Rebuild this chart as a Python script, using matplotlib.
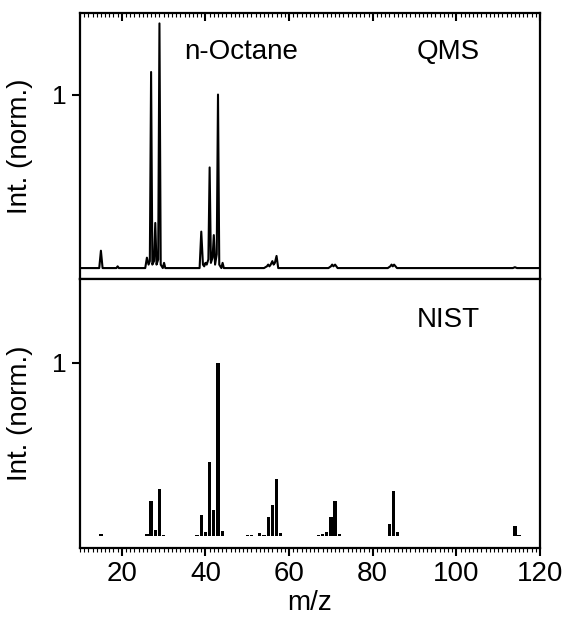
import matplotlib
matplotlib.use("Agg")
import matplotlib.pyplot as plt
import numpy as np

plt.rcParams['font.family'] = ['Liberation Sans', 'DejaVu Sans']

# QMS trace: (m/z, intensity) breakpoints
qms_mz = [10, 14.6, 15.0, 15.4, 18.7, 19.0, 19.3, 25.6, 26.0, 26.4, 26.7, 27.0,
          27.3, 27.7, 28.0, 28.3, 28.7, 29.0, 29.3, 29.8, 30.1, 30.4,
          38.6, 39.0, 39.4, 39.7, 40.0, 40.3, 40.7, 41.0, 41.3, 41.7, 42.0,
          42.3, 42.7, 43.0, 43.3, 43.8, 44.1, 44.4,
          54.0, 54.7, 55.0, 55.3, 55.6, 56.0, 56.3, 56.6, 57.0, 57.4,
          69.4, 70.0, 70.3, 70.6, 71.0, 71.6,
          83.6, 84.2, 84.5, 84.8, 85.1, 85.8,
          113.5, 114.0, 114.5, 120]
qms_int = [0, 0, 0.10, 0, 0, 0.01, 0, 0, 0.06, 0.02, 0.04, 1.13,
           0.02, 0.04, 0.26, 0.02, 0.05, 1.41, 0.02, 0, 0.03, 0,
           0, 0.21, 0.02, 0.01, 0.03, 0.02, 0.05, 0.58, 0.03, 0.06, 0.19,
           0.02, 0.08, 1.00, 0.02, 0, 0.03, 0,
           0, 0.01, 0.02, 0.01, 0.02, 0.04, 0.02, 0.03, 0.07, 0,
           0, 0.01, 0.02, 0.01, 0.02, 0,
           0, 0.01, 0.02, 0.01, 0.02, 0,
           0, 0.005, 0, 0]

# NIST reference stick spectrum
nist_mz = [15, 26, 27, 28, 29, 30, 38, 39, 40, 41, 42, 43, 44, 50, 51, 53, 54,
           55, 56, 57, 58, 67, 68, 69, 70, 71, 72, 84, 85, 86, 114, 115]
nist_int = [0.01, 0.01, 0.20, 0.035, 0.27, 0.008, 0.008, 0.12, 0.02, 0.43, 0.15,
            1.00, 0.03, 0.005, 0.005, 0.015, 0.005, 0.11, 0.18, 0.33, 0.015,
            0.005, 0.01, 0.02, 0.11, 0.20, 0.01, 0.07, 0.26, 0.02, 0.055, 0.005]

fig = plt.figure(figsize=(5.64, 6.23), dpi=100)
ax1 = fig.add_axes([80/564, 1-279/623, 460/564, 266/623])
ax2 = fig.add_axes([80/564, 1-548/623, 460/564, 269/623], sharex=ax1)

ax1.plot(qms_mz, qms_int, color='black', lw=1.5)
ax2.bar(nist_mz, nist_int, width=0.8, color='black')

ax1.set_xlim(10, 120)
ax1.set_ylim(-0.063, 1.47)
ax2.set_ylim(-0.07, 1.485)

for ax in (ax1, ax2):
    for s in ax.spines.values():
        s.set_linewidth(1.6)
    ax.set_yticks([1])
    ax.set_yticklabels(['1'])
    ax.tick_params(axis='y', direction='out', length=6, width=1.5,
                   labelsize=19, right=False)
    ax.set_ylabel('Int. (norm.)', fontsize=20)
    ax.yaxis.set_label_coords(-0.102, 0.5)

ax1.xaxis.set_major_locator(plt.MultipleLocator(20))
ax1.xaxis.set_minor_locator(plt.MultipleLocator(1))
ax1.tick_params(axis='x', which='both', bottom=False, top=True,
                labelbottom=False, direction='in')
ax1.tick_params(axis='x', which='major', length=6, width=1.5)
ax1.tick_params(axis='x', which='minor', length=3, width=0.8)

ax2.tick_params(axis='x', which='both', bottom=True, top=False,
                labelbottom=True, direction='out')
ax2.tick_params(axis='x', which='major', length=6, width=1.5, labelsize=20)
ax2.tick_params(axis='x', which='minor', length=3, width=0.8)
ax2.set_xlabel('m/z', fontsize=20, labelpad=2)

ax1.text(0.35, 0.853, 'n-Octane', transform=ax1.transAxes, fontsize=20,
         ha='center', va='center')
ax1.text(0.8, 0.853, 'QMS', transform=ax1.transAxes, fontsize=20,
         ha='center', va='center')
ax2.text(0.8, 0.848, 'NIST', transform=ax2.transAxes, fontsize=20,
         ha='center', va='center')

fig.savefig('out.png', dpi=100)
